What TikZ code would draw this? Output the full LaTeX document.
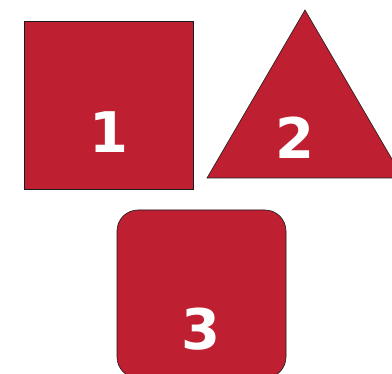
\documentclass[tikz,border=0pt]{standalone}
\usepackage{fontspec}
\setsansfont{DejaVu Sans}
\definecolor{brick}{HTML}{BE1F31}
\definecolor{ink}{HTML}{1A1A1A}
\tikzset{
  shapefill/.style={fill=brick,draw=ink,line width=.6pt},
  digit/.style={text=white,font=\sffamily\bfseries\fontsize{56}{60}\selectfont,inner sep=0pt}
}
\begin{document}
\begin{tikzpicture}[x=1pt,y=-1pt]
\useasboundingbox (0,0) rectangle (392,374);
\clip (0,0) rectangle (392,374);
% square
\draw[shapefill] (24,21) rectangle (193,189);
% triangle
\draw[shapefill] (305,10) -- (403,178) -- (207,178) -- cycle;
% rounded square
\draw[shapefill,rounded corners=21pt] (117,210) rectangle (286,378);
% labels
\node[digit] (one) at (109,132) {1};
\node[digit] (two) at (295,138) {2};
\node[digit] (three) at (201,329) {3};
\end{tikzpicture}
\end{document}
